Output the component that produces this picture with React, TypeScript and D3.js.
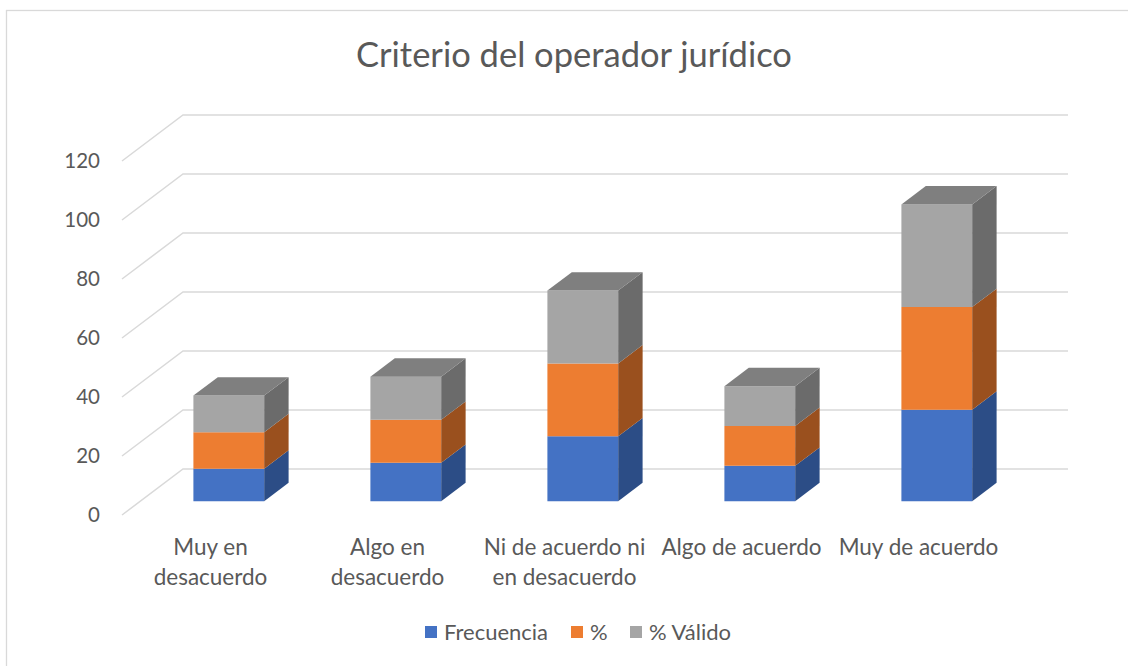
import React from 'react';
import * as d3 from 'd3';

const categories = ['Muy en desacuerdo', 'Algo en desacuerdo', 'Ni de acuerdo ni en desacuerdo', 'Algo de acuerdo', 'Muy de acuerdo'];
const categoryLines = [['Muy en', 'desacuerdo'], ['Algo en', 'desacuerdo'], ['Ni de acuerdo ni', 'en desacuerdo'], ['Algo de acuerdo'], ['Muy de acuerdo']];
const seriesNames = ['Frecuencia', '%', '% Válido'];
const frecuencia = [11, 13, 22, 12, 31];
const porcentaje = [12.4, 14.6, 24.7, 13.5, 34.8];
const valido = [12.4, 14.6, 24.7, 13.5, 34.8];
const yTicks = [0, 20, 40, 60, 80, 100, 120];

const front = ['#4472C4', '#ED7D31', '#A5A5A5'];
const side = ['#2C4D86', '#9A501E', '#6B6B6B'];
const top = ['#2E5090', '#A5561F', '#7F7F7F'];

const FONT = 'Lato, "Open Sans", sans-serif';

export default function App() {
  const width = 1128;
  const height = 666;

  // floor front-left corner and depth offset (oblique 3d)
  const x0 = 122;
  const base = 515;
  const depthX = 61;
  const depthY = -46;

  const x = d3.scaleBand().domain(categories).range([0, 885]);
  const y = d3.scaleLinear().domain([0, 120]).range([0, 354]);

  const proj = (px: number, d: number, v: number): [number, number] => [
    x0 + px + d * depthX,
    base - y(v) + d * depthY,
  ];
  const pts = (arr: [number, number][]) => arr.map(p => p.join(',')).join(' ');

  const series = [frecuencia, porcentaje, valido];
  const stacked = d3.stack<number>().keys([0, 1, 2] as any).value((i: number, k: any) => series[k][i])(categories.map((_, i) => i) as any);

  const bw = x.bandwidth();
  const barW = bw / 2.5;
  const d0 = 0.3;
  const d1 = 0.7;

  return (
    <svg width={width} height={height} style={{ position: 'absolute', left: 0, top: 0, background: '#fff' }}>
      <rect x={6.5} y={10.5} width={1130} height={670} fill="#fff" stroke="#d9d9d9" strokeWidth={1.3} />
      <text x={574} y={67} textAnchor="middle" fontFamily={FONT} fontSize={34.5} fill="#595959">Criterio del operador jurídico</text>

      {yTicks.map(t => {
        const a = proj(0, 0, t);
        const b = proj(0, 1, t);
        const c = proj(885, 1, t);
        return (
          <g key={t}>
            <polyline points={pts([a, b, c])} fill="none" stroke="#d9d9d9" strokeWidth={1.5} />
            <text x={100} y={a[1]} dy="0.35em" textAnchor="end" fontFamily={FONT} fontSize={20.5} fill="#595959">{t}</text>
          </g>
        );
      })}

      {categories.map((c, i) => {
        const left = (x(c) as number) + (bw - barW) / 2;
        const right = left + barW;
        return (
          <g key={c}>
            {stacked.map((s, k) => {
              const lo = s[i][0];
              const hi = s[i][1];
              const faceFront = [proj(left, d0, lo), proj(right, d0, lo), proj(right, d0, hi), proj(left, d0, hi)] as [number, number][];
              const faceSide = [proj(right, d0, lo), proj(right, d1, lo), proj(right, d1, hi), proj(right, d0, hi)] as [number, number][];
              const faceTop = [proj(left, d0, hi), proj(right, d0, hi), proj(right, d1, hi), proj(left, d1, hi)] as [number, number][];
              return (
                <g key={k}>
                  <polygon points={pts(faceFront)} fill={front[k]} />
                  <polygon points={pts(faceSide)} fill={side[k]} />
                  {k === stacked.length - 1 && <polygon points={pts(faceTop)} fill={top[k]} />}
                </g>
              );
            })}
          </g>
        );
      })}

      {categories.map((c, i) => {
        const cx = x0 + (x(c) as number) + bw / 2;
        return (
          <text key={c} x={cx} y={555} textAnchor="middle" fontFamily={FONT} fontSize={22.5} fill="#595959">
            {categoryLines[i].map((l, j) => (
              <tspan key={j} x={cx} dy={j === 0 ? 0 : 30}>{l}</tspan>
            ))}
          </text>
        );
      })}

      {seriesNames.map((n, k) => {
        const lx = [425, 571, 630][k];
        return (
          <g key={n}>
            <rect x={lx} y={626} width={12} height={12} fill={front[k]} />
            <text x={lx + 19} y={632} dy="0.35em" fontFamily={FONT} fontSize={22} fill="#595959">{n}</text>
          </g>
        );
      })}
    </svg>
  );
}
